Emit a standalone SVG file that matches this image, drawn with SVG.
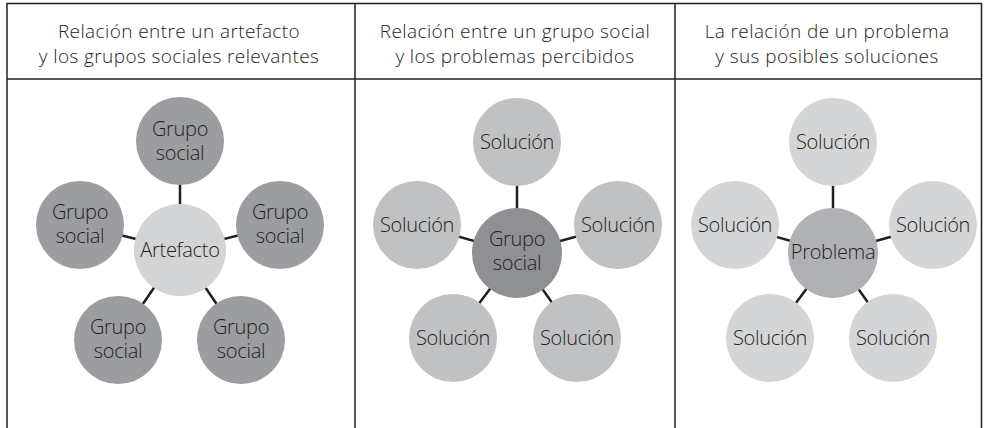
<svg xmlns="http://www.w3.org/2000/svg" width="984" height="428" viewBox="0 0 984 428">
<style>
.frame{fill:none;stroke:#231f20;stroke-width:1.5}
.hdr{font-family:"Open Sans","Noto Sans",sans-serif;font-weight:300;font-size:19px;fill:#231f20;text-anchor:middle;letter-spacing:0.4px}
.lbl{font-family:"Open Sans","Noto Sans",sans-serif;font-weight:300;font-size:20px;fill:#231f20;text-anchor:middle;letter-spacing:-0.3px}
.c1o{fill:#9c9da0}.c1c{fill:#d3d4d6}
.c2o{fill:#c0c1c3}.c2c{fill:#8f9093}
.c3o{fill:#d4d5d7}.c3c{fill:#b0b1b4}
.con{stroke:#231f20;stroke-width:2.5;fill:none}
</style>
<rect width="984" height="428" fill="#ffffff"/>
<g id="frame">
<path class="frame" d="M7,428 V3.5 H981.5 V428 M7,79 H981.5 M355,3.5 V428 M675,3.5 V428"/>
</g>
<g id="headers">
<text class="hdr" x="179" y="38">Relación entre un artefacto<tspan x="179" y="63">y los grupos sociales relevantes</tspan></text>
<text class="hdr" x="515" y="38">Relación entre un grupo social<tspan x="515" y="63">y los problemas percibidos</tspan></text>
<text class="hdr" x="827" y="38">La relación de un problema<tspan x="827" y="63">y sus posibles soluciones</tspan></text>
</g>
<g id="connectors">
<path class="con" d="M180,250 L180,141 M180,250 L80,225 M180,250 L280,225 M180,250 L118,340 M180,250 L241,340"/>
<path class="con" d="M517,253 L517,142 M517,253 L417,225 M517,253 L618,225 M517,253 L453,338 M517,253 L577,338"/>
<path class="con" d="M833,253 L833,142 M833,253 L735,225 M833,253 L933,225 M833,253 L770,338 M833,253 L893,338"/>
</g>
<g id="p1-center"><circle class="c1c" cx="180" cy="250" r="46"/><text class="lbl" x="180" y="257">Artefacto</text></g>
<g id="p1-top"><circle class="c1o" cx="180" cy="141" r="44"/><text class="lbl" x="180" y="136">Grupo<tspan x="180" y="160">social</tspan></text></g>
<g id="p1-left"><circle class="c1o" cx="80" cy="225" r="44"/><text class="lbl" x="80" y="219">Grupo<tspan x="80" y="243">social</tspan></text></g>
<g id="p1-right"><circle class="c1o" cx="280" cy="225" r="44"/><text class="lbl" x="280" y="219">Grupo<tspan x="280" y="243">social</tspan></text></g>
<g id="p1-bl"><circle class="c1o" cx="118" cy="340" r="44"/><text class="lbl" x="118" y="334">Grupo<tspan x="118" y="358">social</tspan></text></g>
<g id="p1-br"><circle class="c1o" cx="241" cy="340" r="44"/><text class="lbl" x="241" y="334">Grupo<tspan x="241" y="358">social</tspan></text></g>
<g id="p2-center"><circle class="c2c" cx="517" cy="253" r="45"/><text class="lbl" x="517" y="246">Grupo<tspan x="517" y="270">social</tspan></text></g>
<g id="p2-top"><circle class="c2o" cx="517" cy="142" r="44"/><text class="lbl" x="517" y="149">Solución</text></g>
<g id="p2-left"><circle class="c2o" cx="417" cy="225" r="44"/><text class="lbl" x="417" y="232">Solución</text></g>
<g id="p2-right"><circle class="c2o" cx="618" cy="225" r="44"/><text class="lbl" x="618" y="232">Solución</text></g>
<g id="p2-bl"><circle class="c2o" cx="453" cy="338" r="44"/><text class="lbl" x="453" y="345">Solución</text></g>
<g id="p2-br"><circle class="c2o" cx="577" cy="338" r="44"/><text class="lbl" x="577" y="345">Solución</text></g>
<g id="p3-center"><circle class="c3c" cx="833" cy="253" r="45"/><text class="lbl" x="833" y="259">Problema</text></g>
<g id="p3-top"><circle class="c3o" cx="833" cy="142" r="44"/><text class="lbl" x="833" y="149">Solución</text></g>
<g id="p3-left"><circle class="c3o" cx="735" cy="225" r="44"/><text class="lbl" x="735" y="232">Solución</text></g>
<g id="p3-right"><circle class="c3o" cx="933" cy="225" r="44"/><text class="lbl" x="933" y="232">Solución</text></g>
<g id="p3-bl"><circle class="c3o" cx="770" cy="338" r="44"/><text class="lbl" x="770" y="345">Solución</text></g>
<g id="p3-br"><circle class="c3o" cx="893" cy="338" r="44"/><text class="lbl" x="893" y="345">Solución</text></g>
</svg>
